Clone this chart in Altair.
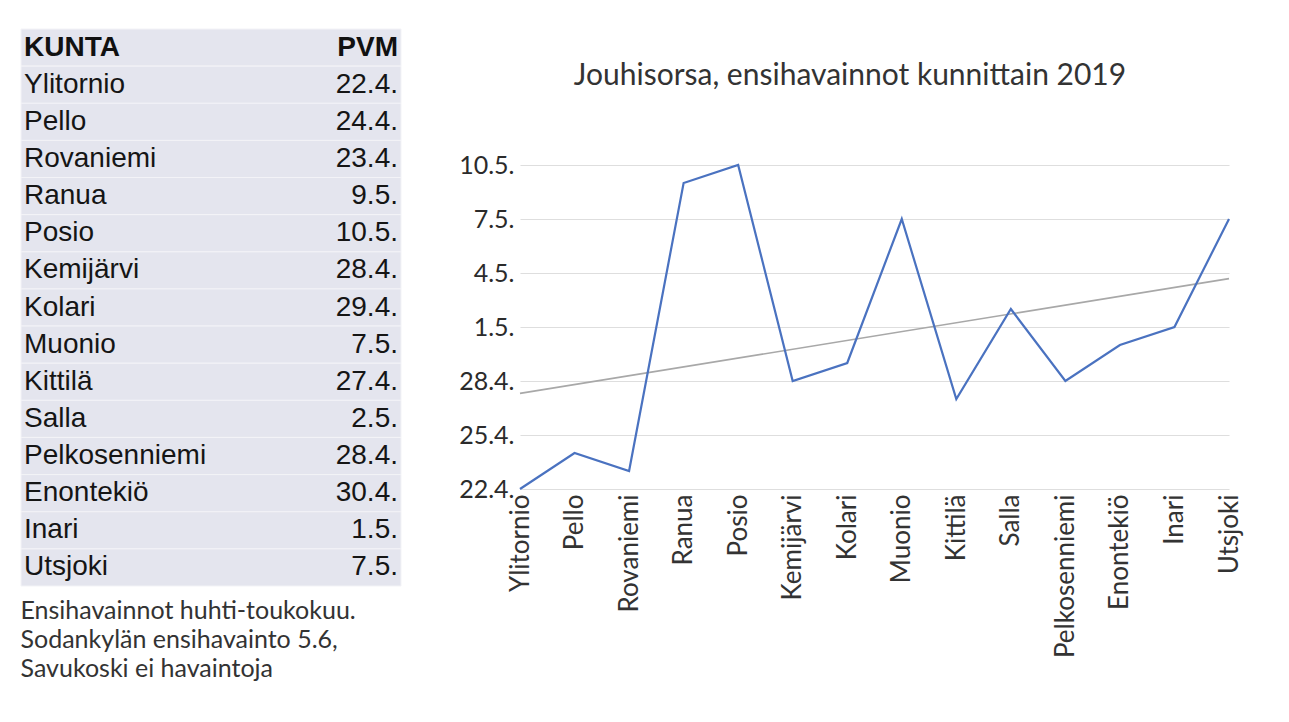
import json
import altair as alt
import pandas as pd

# ---------------- data ----------------
kunnat = ["Ylitornio", "Pello", "Rovaniemi", "Ranua", "Posio", "Kemijärvi", "Kolari",
          "Muonio", "Kittilä", "Salla", "Pelkosenniemi", "Enontekiö", "Inari", "Utsjoki"]
pvm = ["22.4.", "24.4.", "23.4.", "9.5.", "10.5.", "28.4.", "29.4.",
       "7.5.", "27.4.", "2.5.", "28.4.", "30.4.", "1.5.", "7.5."]
header = ["KUNTA", "PVM"]
y_tick_values = [0, 3, 6, 9, 12, 15, 18]
y_tick_labels = ["22.4.", "25.4.", "28.4.", "1.5.", "4.5.", "7.5.", "10.5."]
chart_title = "Jouhisorsa, ensihavainnot kunnittain 2019"
note_lines = ["Ensihavainnot huhti-toukokuu.", "Sodankylän ensihavainto 5.6,", "Savukoski ei havaintoja"]


def days_after_22_april(s):
    d, m = [int(p) for p in s.strip(".").split(".")]
    return d - 22 + (0 if m == 4 else 30)


line_df = pd.DataFrame({
    "i": list(range(len(kunnat))),
    "kunta": kunnat,
    "pvm": pvm,
    "day": [days_after_22_april(s) for s in pvm],
})

rows = []
for h in header:
    rows.append({"row": 0, "col": h, "text": h})
for r, (k, p) in enumerate(zip(kunnat, pvm), start=1):
    rows.append({"row": r, "col": "KUNTA", "text": k})
    rows.append({"row": r, "col": "PVM", "text": p})
table_df = pd.DataFrame(rows)
row_df = pd.DataFrame({"row": list(range(len(kunnat) + 1))})

# ---------------- table (left) ----------------
row_domain = list(range(len(kunnat) + 1))
yenc = alt.Y("row:O", axis=None, scale=alt.Scale(domain=row_domain, paddingInner=0, paddingOuter=0))
xenc = alt.X("col:N", axis=None, scale=alt.Scale(type="point", domain=header, padding=0))

bg = alt.Chart(row_df).mark_rect(fill="#e4e5ee", stroke="#f3f3f7", strokeWidth=1).encode(y=yenc)

tfont = "Liberation Sans"
tsize = 28
base_t = alt.Chart(table_df)
left_body = base_t.transform_filter("datum.row > 0 && datum.col == 'KUNTA'").mark_text(
    align="left", dx=3, font=tfont, fontSize=tsize, color="#151515").encode(x=xenc, y=yenc, text="text:N")
right_body = base_t.transform_filter("datum.row > 0 && datum.col == 'PVM'").mark_text(
    align="right", dx=-3, font=tfont, fontSize=tsize, color="#151515").encode(x=xenc, y=yenc, text="text:N")
left_head = base_t.transform_filter("datum.row == 0 && datum.col == 'KUNTA'").mark_text(
    align="left", dx=3, font=tfont, fontSize=tsize, fontWeight="bold", color="#111").encode(x=xenc, y=yenc, text="text:N")
right_head = base_t.transform_filter("datum.row == 0 && datum.col == 'PVM'").mark_text(
    align="right", dx=-3, font=tfont, fontSize=tsize, fontWeight="bold", color="#111").encode(x=xenc, y=yenc, text="text:N")

table = alt.layer(bg, left_body, right_body, left_head, right_head).properties(
    width=380, height=557,
    title=alt.TitleParams(note_lines, orient="bottom", anchor="start", font="Lato", fontSize=25,
                          lineHeight=29, color="#333333", fontWeight="normal", offset=12),
)

# ---------------- line chart (right) ----------------
x_label_expr = json.dumps(kunnat) + "[datum.value]"
y_label_expr = json.dumps({str(v): l for v, l in zip(y_tick_values, y_tick_labels)}) + "[datum.value]"

x = alt.X("i:Q", scale=alt.Scale(domain=[0, len(kunnat) - 1], nice=False, zero=False),
          axis=alt.Axis(values=list(range(len(kunnat))), labelExpr=x_label_expr, labelAngle=-90,
                        ticks=False, domain=False, grid=False, title=None, labelFont="Lato",
                        labelFontSize=26, labelColor="#333333", labelPadding=5,
                        labelOverlap=False, labelFlush=False))
y = alt.Y("day:Q", scale=alt.Scale(domain=[0, 18], nice=False, zero=False),
          axis=alt.Axis(values=y_tick_values, labelExpr=y_label_expr, ticks=False, domain=False,
                        grid=True, gridColor="#dedede", gridWidth=1.2, title=None, labelFont="Lato",
                        labelFontSize=25, labelColor="#2b2b2b", labelPadding=6,
                        labelOverlap=False, labelFlush=False, minExtent=70, maxExtent=70))

trend = alt.Chart(line_df).transform_regression("i", "day").mark_line(
    color="#a8a8a8", strokeWidth=1.6).encode(x=x, y=y)
line = alt.Chart(line_df).mark_line(color="#4a72c0", strokeWidth=2.2).encode(x=x, y=y)
plot = alt.layer(trend, line).properties(width=709, height=324)

title_view = alt.Chart(pd.DataFrame({"t": [chart_title]})).mark_text(
    font="Lato", fontSize=30, color="#333333").encode(text="t:N").properties(width=660, height=94)

right = alt.vconcat(title_view, plot, spacing=42, bounds="flush")

chart = alt.hconcat(table, right, spacing=48).properties(
    padding={"left": 12, "top": 20, "right": 5, "bottom": 5},
    background="white",
).configure_view(stroke=None)

chart.save("out.html", embed_options={"renderer": "svg", "actions": False})
